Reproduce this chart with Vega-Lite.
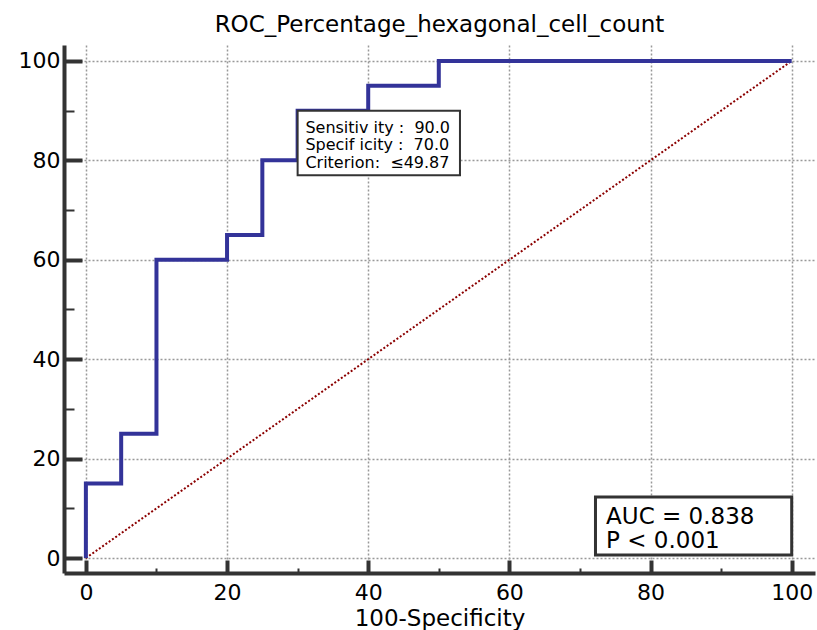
{
  "$schema": "https://vega.github.io/schema/vega-lite/v6.json",
  "width": 751,
  "height": 528,
  "autosize": "none",
  "padding": {"left": 64, "top": 45, "right": 2, "bottom": 57},
  "background": "white",
  "config": {
    "view": {"stroke": null},
    "font": "DejaVu Sans",
    "axis": {"labelFont": "DejaVu Sans", "titleFont": "DejaVu Sans"}
  },
  "title": {"text": "ROC_Percentage_hexagonal_cell_count", "font": "DejaVu Sans", "fontSize": 23, "fontWeight": "normal", "color": "black", "offset": 8, "anchor": "middle"},
  "datasets": {
    "roc": [
      {"fpr": 0, "tpr": 0},
      {"fpr": 0, "tpr": 15},
      {"fpr": 5, "tpr": 15},
      {"fpr": 5, "tpr": 25},
      {"fpr": 10, "tpr": 25},
      {"fpr": 10, "tpr": 60},
      {"fpr": 20, "tpr": 60},
      {"fpr": 20, "tpr": 65},
      {"fpr": 25, "tpr": 65},
      {"fpr": 25, "tpr": 80},
      {"fpr": 30, "tpr": 80},
      {"fpr": 30, "tpr": 90},
      {"fpr": 40, "tpr": 90},
      {"fpr": 40, "tpr": 95},
      {"fpr": 50, "tpr": 95},
      {"fpr": 50, "tpr": 100},
      {"fpr": 100, "tpr": 100}
    ],
    "diag": [{"fpr": 0, "tpr": 0}, {"fpr": 100, "tpr": 100}]
  },
  "layer": [
    {
      "data": {"name": "diag"},
      "mark": {"type": "line", "color": "#8B0000", "strokeWidth": 2, "strokeDash": [2, 2], "clip": true},
      "encoding": {
        "x": {"field": "fpr", "type": "quantitative", "scale": {"domain": [-3.1, 103.3], "nice": false, "zero": false},
          "axis": {
            "values": [0,5,10,15,20,25,30,35,40,45,50,55,60,65,70,75,80,85,90,95,100],
            "labelExpr": "datum.value % 20 === 0 ? datum.label : ''",
            "labelFontSize": 22, "labelColor": "black", "labelPadding": 22,
            "domainColor": "#333333", "domainWidth": 4,
            "tickColor": "#333333",
            "tickSize": {"condition": {"test": "datum.value % 20 === 0", "value": -13}, "value": -5},
            "tickWidth": {"condition": {"test": "datum.value % 20 === 0", "value": 4}, "value": 2},
            "grid": true,
            "gridColor": "#999999", "gridDash": [2, 2], "gridWidth": 1.5,
            "gridOpacity": {"condition": {"test": "datum.value % 20 === 0", "value": 1}, "value": 0},
            "title": "100-Specificity", "titleFontSize": 23, "titleFontWeight": "normal", "titleColor": "black", "titlePadding": 4
          }},
        "y": {"field": "tpr", "type": "quantitative", "scale": {"domain": [-3, 103.2], "nice": false, "zero": false},
          "axis": {
            "values": [0,5,10,15,20,25,30,35,40,45,50,55,60,65,70,75,80,85,90,95,100],
            "labelExpr": "datum.value % 20 === 0 ? datum.label : ''",
            "labelFontSize": 22, "labelColor": "black", "labelPadding": 22,
            "domainColor": "#333333", "domainWidth": 4,
            "tickColor": "#333333",
            "tickSize": {"condition": {"test": "datum.value % 20 === 0", "value": -18}, "value": -10},
            "tickWidth": {"condition": {"test": "datum.value % 20 === 0", "value": 4}, "value": 2},
            "grid": true,
            "gridColor": "#999999", "gridDash": [2, 2], "gridWidth": 1.5,
            "gridOpacity": {"condition": {"test": "datum.value % 20 === 0", "value": 1}, "value": 0},
            "title": null
          }}
      }
    },
    {
      "data": {"name": "roc"},
      "mark": {"type": "line", "color": "#333399", "strokeWidth": 4, "interpolate": "linear"},
      "encoding": {
        "x": {"field": "fpr", "type": "quantitative"},
        "y": {"field": "tpr", "type": "quantitative"}
      }
    },
    {
      "data": {"values": [{}]},
      "mark": {"type": "rect", "fill": "white", "stroke": "#333333", "strokeWidth": 2},
      "encoding": {
        "x": {"datum": 30}, "x2": {"datum": 53},
        "y": {"datum": 90}, "y2": {"datum": 77}
      }
    },
    {
      "data": {"values": [{"t": "Sensitiv ity :\u00a0\u00a090.0", "k": 86.6}, {"t": "Specif icity :\u00a0\u00a070.0", "k": 83.0}, {"t": "Criterion:\u00a0\u00a0≤49.87", "k": 79.4}]},
      "mark": {"type": "text", "align": "left", "baseline": "middle", "fontSize": 16, "color": "black", "font": "DejaVu Sans"},
      "encoding": {
        "x": {"datum": 31.1},
        "y": {"field": "k", "type": "quantitative"},
        "text": {"field": "t"}
      }
    },
    {
      "data": {"values": [{}]},
      "mark": {"type": "rect", "fill": "white", "stroke": "#333333", "strokeWidth": 3},
      "encoding": {
        "x": {"datum": 72.2}, "x2": {"datum": 100},
        "y": {"datum": 12.3}, "y2": {"datum": 0.6}
      }
    },
    {
      "data": {"values": [{"t": "AUC = 0.838", "k": 8.2}, {"t": "P < 0.001", "k": 3.4}]},
      "mark": {"type": "text", "align": "left", "baseline": "middle", "fontSize": 23, "color": "black", "font": "DejaVu Sans"},
      "encoding": {
        "x": {"datum": 73.7},
        "y": {"field": "k", "type": "quantitative"},
        "text": {"field": "t"}
      }
    }
  ]
}
